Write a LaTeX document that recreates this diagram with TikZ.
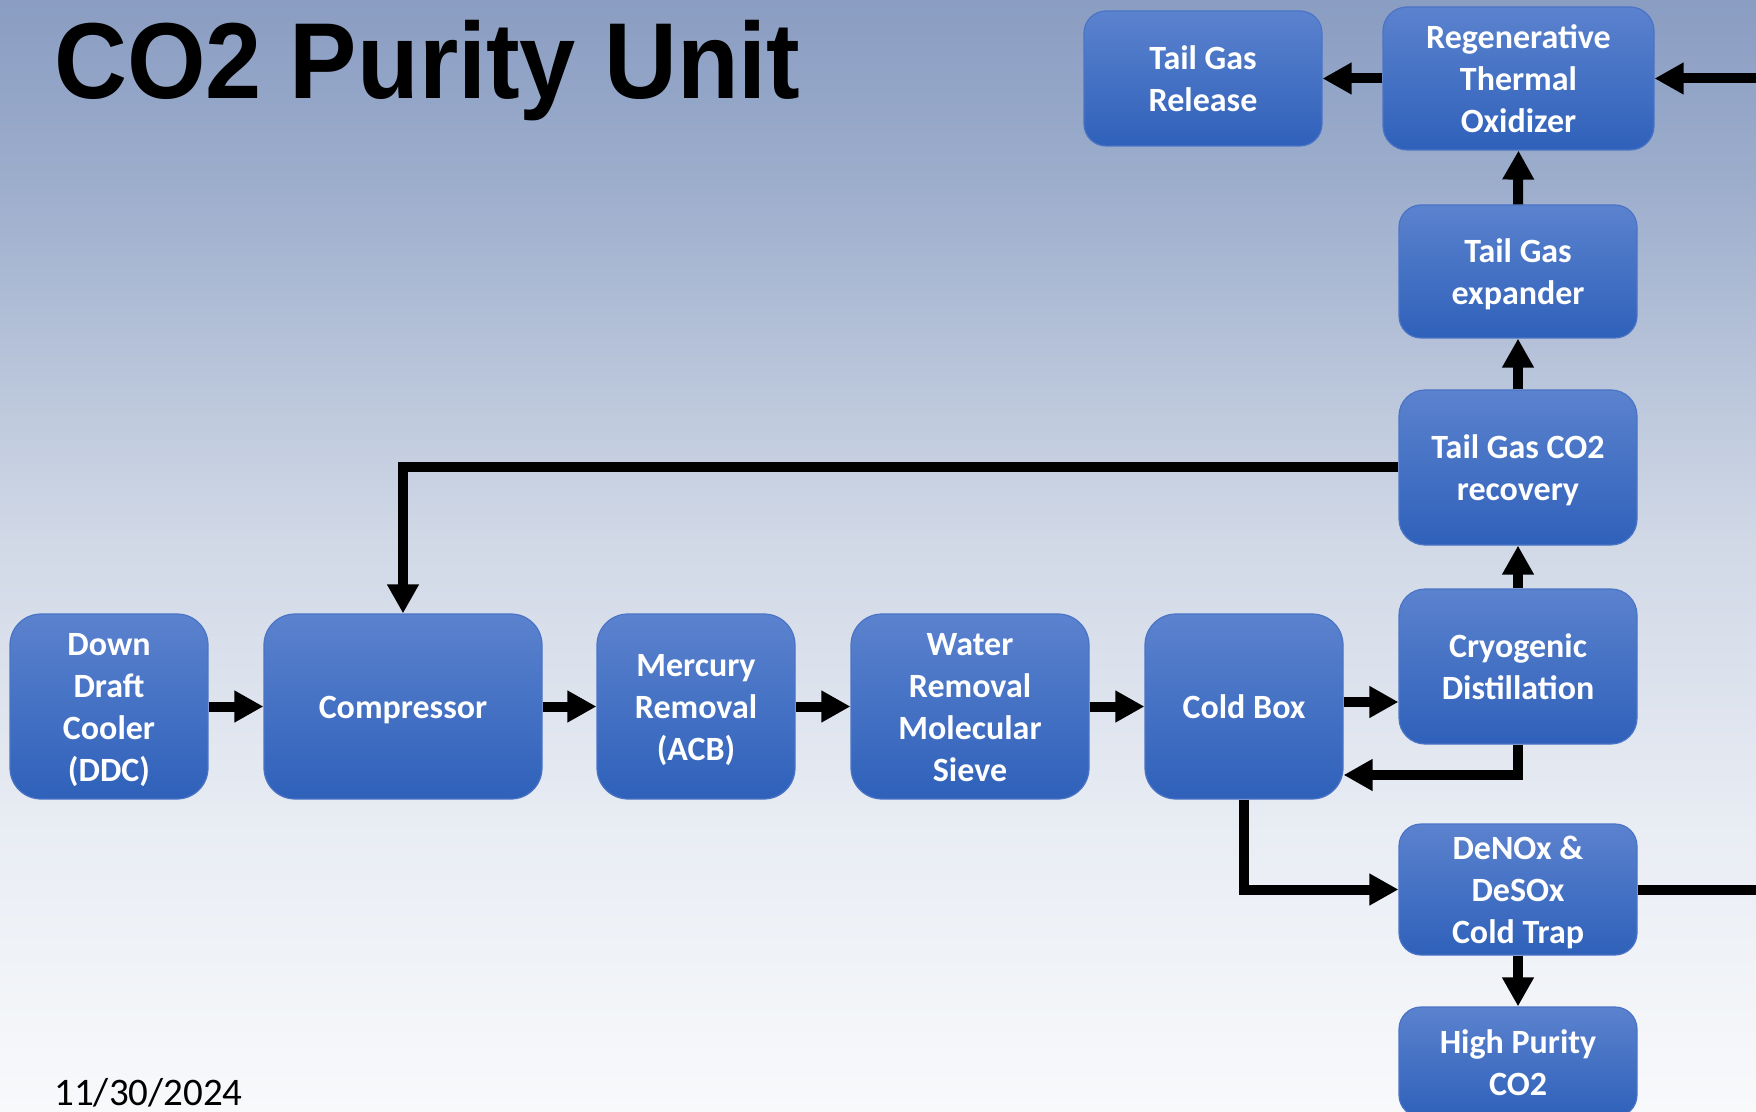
\documentclass[tikz,border=0pt]{standalone}
\usepackage{fontspec}
\setmainfont{Carlito}
\newfontfamily\titlefont{Liberation Sans}
\usetikzlibrary{arrows.meta}
\definecolor{boxtop}{HTML}{5B82CE}
\definecolor{boxbot}{HTML}{2F61BA}
\definecolor{boxedge}{HTML}{4B74C6}
\definecolor{bgA}{HTML}{F8F9FB}
\definecolor{bgB}{HTML}{E9EDF4}
\definecolor{bgC}{HTML}{D0D8E6}
\definecolor{bgD}{HTML}{9CADCC}
\definecolor{bgE}{HTML}{8A9DC2}
% tikz maps the path's bounding box onto 25bp..75bp of the shading
\pgfdeclareverticalshading{bgshade}{100bp}{color(0bp)=(bgA); color(25bp)=(bgA); color(37.5bp)=(bgB); color(51bp)=(bgC); color(67bp)=(bgD); color(75bp)=(bgE); color(100bp)=(bgE)}
% uniform line boxes, lowered slightly so the letters sit centred
\newcommand{\boxlines}[1]{\raisebox{-2pt}[\height][\depth]{\begin{tabular}{@{}c@{}}#1\end{tabular}}}
\tikzset{
  box/.style={draw=boxedge, line width=0.6pt, top color=boxtop, bottom color=boxbot,
    text=white, font=\fontsize{17}{21}\selectfont\bfseries, inner sep=0pt},
  arr/.style={line width=5pt, line join=miter, -{Triangle[length=14.5pt,width=15pt]}},
  plain/.style={line width=5pt, line join=miter},
}
\begin{document}
\begin{tikzpicture}[x=0.5pt,y=-0.5pt]
\shade[shading=bgshade] (0,0) rectangle (1756,1112);
\useasboundingbox (0,0) rectangle (1756,1112);

\node[anchor=base west, inner sep=0pt, xscale=0.935, font=\titlefont\bfseries\fontsize{54}{60}\selectfont] (title) at (54,99) {CO2 Purity Unit};
\node[anchor=base west, inner sep=0pt, font=\fontsize{19.5}{23}\selectfont] (date) at (54,1105) {11/30/2024};

% main row
\node[box, rounded corners=15.5pt, minimum width=99pt, minimum height=92.5pt] (ddc) at (109,706.5) {\boxlines{Down\\Draft\\Cooler\\(DDC)}};
\node[box, rounded corners=15.5pt, minimum width=139pt, minimum height=92.5pt] (comp) at (403,706.5) {\boxlines{Compressor}};
\node[box, rounded corners=15.5pt, minimum width=99pt, minimum height=92.5pt] (merc) at (696,706.5) {\boxlines{Mercury\\Removal\\(ACB)}};
\node[box, rounded corners=15.5pt, minimum width=119pt, minimum height=92.5pt] (water) at (970,706.5) {\boxlines{Water\\Removal\\Molecular\\Sieve}};
\node[box, rounded corners=15.5pt, minimum width=99pt, minimum height=92.5pt] (cold) at (1244,706.5) {\boxlines{Cold Box}};

% right column
\node[box, rounded corners=13pt, minimum width=119pt, minimum height=77.5pt] (cryo) at (1518,666.5) {\boxlines{Cryogenic\\Distillation}};
\node[box, rounded corners=13pt, minimum width=119pt, minimum height=77.5pt] (rec) at (1518,467.5) {\boxlines{Tail Gas CO2\\recovery}};
\node[box, rounded corners=11pt, minimum width=119pt, minimum height=66.5pt] (exp) at (1518,271.5) {\boxlines{Tail Gas\\expander}};
\node[box, rounded corners=12pt, minimum width=135.5pt, minimum height=71.5pt] (rto) at (1518.5,78.5) {\boxlines{Regenerative\\Thermal\\Oxidizer}};
\node[box, rounded corners=11pt, minimum width=119pt, minimum height=67.5pt] (rel) at (1203,78.5) {\boxlines{Tail Gas\\Release}};
\node[box, rounded corners=11pt, minimum width=119pt, minimum height=65.5pt] (denox) at (1518,889.5) {\boxlines{DeNOx \&\\DeSOx\\Cold Trap}};
\node[box, rounded corners=11pt, minimum width=119pt, minimum height=55pt] (hp) at (1518,1062) {\boxlines{High Purity\\CO2}};

% helper coordinates
\coordinate (lvlcc) at (0,702);
\coordinate (lvlret) at (0,775);
\coordinate (edgeA) at (1756,889.5);
\coordinate (edgeB) at (1756,78.5);

% connectors
\draw[arr] (ddc.east) -- (comp.west);
\draw[arr] (comp.east) -- (merc.west);
\draw[arr] (merc.east) -- (water.west);
\draw[arr] (water.east) -- (cold.west);
\draw[arr] (cold.east |- lvlcc) -- (cryo.west |- lvlcc);
\draw[arr] (cryo.south) |- (cold.east |- lvlret);
\draw[arr] (cold.south) |- (denox.west);
\draw[plain] (denox.east) -- (edgeA);
\draw[arr] (denox.south) -- (hp.north);
\draw[arr] (cryo.north) -- (rec.south);
\draw[arr] (rec.north) -- (exp.south);
\draw[arr] (exp.north) -- (rto.south);
\draw[arr] (rto.west) -- (rel.east);
\draw[arr] (edgeB) -- (rto.east);
\draw[arr] (rec.west) -| (comp.north);
\end{tikzpicture}
\end{document}
